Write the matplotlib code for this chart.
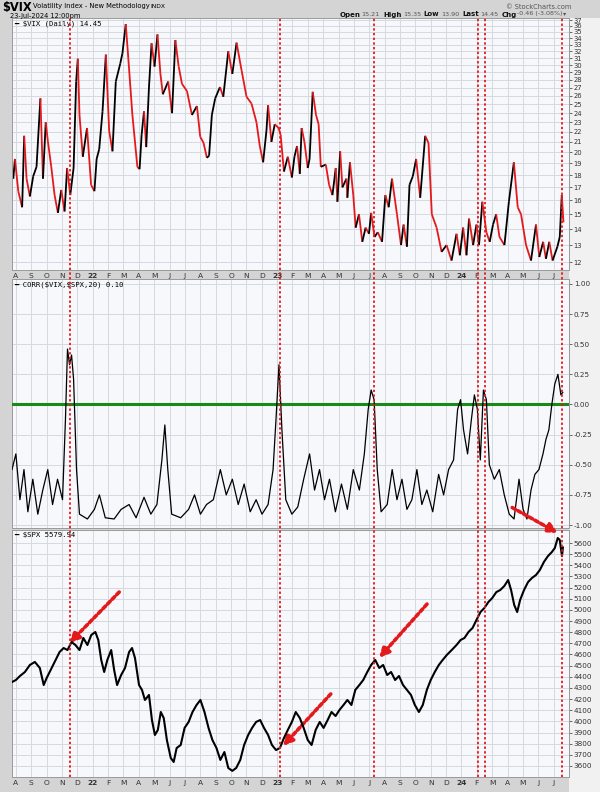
import numpy as np
import matplotlib.pyplot as plt
from matplotlib.collections import LineCollection
from matplotlib.patches import ConnectionPatch, Rectangle
from matplotlib.lines import Line2D
from matplotlib.ticker import FixedLocator, NullLocator, FuncFormatter
import matplotlib.transforms as mtransforms

# time axis in decimal years
vix_t = [2021.560, 2021.569, 2021.578, 2021.596, 2021.617, 2021.628, 2021.641, 2021.659, 2021.677,
         2021.695, 2021.716, 2021.730, 2021.745, 2021.757, 2021.775, 2021.793, 2021.811, 2021.829,
         2021.847, 2021.861, 2021.878, 2021.896, 2021.910, 2021.919, 2021.928, 2021.946, 2021.969,
         2021.991, 2022.009, 2022.021, 2022.035, 2022.053, 2022.071, 2022.089, 2022.107, 2022.125,
         2022.149, 2022.161, 2022.179, 2022.193, 2022.215, 2022.242, 2022.254, 2022.265, 2022.278,
         2022.290, 2022.305, 2022.319, 2022.335, 2022.351, 2022.367, 2022.380, 2022.409, 2022.430,
         2022.448, 2022.466, 2022.484, 2022.511, 2022.538, 2022.565, 2022.583, 2022.601, 2022.619,
         2022.631, 2022.646, 2022.664, 2022.690, 2022.708, 2022.735, 2022.757, 2022.780, 2022.807,
         2022.834, 2022.861, 2022.888, 2022.906, 2022.924, 2022.942, 2022.951, 2022.969, 2022.987,
         2023.008, 2023.019, 2023.037, 2023.058, 2023.080, 2023.094, 2023.108, 2023.123, 2023.133,
         2023.148, 2023.166, 2023.176, 2023.193, 2023.211, 2023.225, 2023.237, 2023.264, 2023.282,
         2023.300, 2023.318, 2023.327, 2023.342, 2023.354, 2023.376, 2023.381, 2023.395, 2023.413,
         2023.426, 2023.444, 2023.462, 2023.480, 2023.498, 2023.510, 2023.528, 2023.546, 2023.569,
         2023.587, 2023.605, 2023.623, 2023.650, 2023.672, 2023.686, 2023.704, 2023.718, 2023.736,
         2023.754, 2023.776, 2023.803, 2023.821, 2023.839, 2023.865, 2023.892, 2023.919, 2023.946,
         2023.973, 2023.991, 2024.009, 2024.027, 2024.041, 2024.063, 2024.081, 2024.095, 2024.113,
         2024.135, 2024.153, 2024.171, 2024.188, 2024.206, 2024.233, 2024.257, 2024.284, 2024.305,
         2024.323, 2024.350, 2024.377, 2024.404, 2024.422, 2024.443, 2024.458, 2024.476, 2024.494,
         2024.520, 2024.533, 2024.544, 2024.553]
vix = [19.2, 17.7, 19.4, 16.7, 15.5, 21.6, 17.7, 16.3, 17.9,
       18.7, 25.7, 17.7, 23.0, 21.0, 18.7, 16.4, 15.1, 16.8,
       15.2, 18.6, 16.4, 18.6, 27.8, 30.9, 23.8, 19.6, 22.4,
       17.2, 16.7, 19.4, 20.3, 24.2, 31.5, 22.1, 20.1, 27.8,
       30.2, 31.7, 36.3, 30.9, 23.8, 18.7, 18.5, 21.7, 24.2,
       20.5, 27.1, 33.2, 29.8, 34.6, 28.8, 26.2, 27.8, 24.0,
       33.7, 29.8, 27.5, 26.6, 23.8, 24.8, 21.5, 20.9, 19.5,
       19.7, 23.8, 25.7, 27.1, 25.9, 32.0, 28.8, 33.3, 29.3,
       25.9, 25.1, 23.0, 20.6, 19.1, 22.1, 24.9, 21.0, 22.8,
       22.4, 21.7, 18.3, 19.6, 17.8, 19.6, 20.6, 18.1, 22.4,
       21.0, 18.6, 19.4, 26.5, 23.8, 22.8, 18.7, 18.9, 17.2,
       16.4, 18.6, 15.9, 20.1, 17.0, 17.7, 16.2, 19.1, 16.4,
       14.1, 15.0, 13.2, 14.1, 13.7, 15.1, 13.5, 13.8, 13.2,
       16.4, 15.5, 17.7, 15.0, 13.0, 14.3, 12.9, 17.2, 17.9,
       19.4, 16.2, 21.6, 20.9, 15.0, 14.1, 12.6, 13.0, 12.1,
       13.7, 12.4, 14.1, 12.4, 14.7, 13.0, 14.3, 13.0, 15.9,
       13.8, 13.2, 14.3, 15.0, 13.5, 13.0, 15.9, 19.1, 15.5,
       15.0, 13.0, 12.1, 14.3, 12.3, 13.2, 12.2, 13.2, 12.1,
       12.9, 13.5, 16.4, 14.45]

corr_t = [2021.562, 2021.583, 2021.605, 2021.627, 2021.648, 2021.675, 2021.702, 2021.729, 2021.756,
          2021.782, 2021.809, 2021.836, 2021.852, 2021.863, 2021.874, 2021.885, 2021.896, 2021.912,
          2021.928, 2021.971, 2022.009, 2022.036, 2022.068, 2022.116, 2022.154, 2022.197, 2022.235,
          2022.278, 2022.315, 2022.348, 2022.375, 2022.391, 2022.407, 2022.428, 2022.477, 2022.520,
          2022.552, 2022.584, 2022.617, 2022.654, 2022.692, 2022.724, 2022.757, 2022.789, 2022.821,
          2022.854, 2022.886, 2022.918, 2022.951, 2022.978, 2022.994, 2023.010, 2023.026, 2023.047,
          2023.080, 2023.112, 2023.144, 2023.176, 2023.203, 2023.230, 2023.257, 2023.284, 2023.316,
          2023.349, 2023.381, 2023.413, 2023.446, 2023.473, 2023.494, 2023.510, 2023.526, 2023.543,
          2023.564, 2023.597, 2023.624, 2023.650, 2023.677, 2023.704, 2023.731, 2023.758, 2023.785,
          2023.812, 2023.844, 2023.876, 2023.903, 2023.930, 2023.957, 2023.979, 2023.995, 2024.011,
          2024.033, 2024.054, 2024.070, 2024.086, 2024.102, 2024.119, 2024.135, 2024.151, 2024.178,
          2024.205, 2024.232, 2024.259, 2024.285, 2024.312, 2024.334, 2024.355, 2024.377, 2024.398,
          2024.420, 2024.442, 2024.458, 2024.474, 2024.490, 2024.506, 2024.523, 2024.539, 2024.549]
corr = [-0.54, -0.41, -0.79, -0.54, -0.89, -0.62, -0.91, -0.71, -0.54,
        -0.83, -0.62, -0.79, -0.12, 0.46, 0.33, 0.41, 0.21, -0.54,
        -0.91, -0.95, -0.87, -0.75, -0.94, -0.95, -0.87, -0.83, -0.94,
        -0.77, -0.91, -0.83, -0.46, -0.17, -0.54, -0.91, -0.94, -0.87,
        -0.75, -0.91, -0.83, -0.79, -0.54, -0.75, -0.62, -0.83, -0.66,
        -0.89, -0.79, -0.91, -0.83, -0.54, -0.12, 0.33, -0.21, -0.79,
        -0.91, -0.85, -0.62, -0.41, -0.71, -0.54, -0.79, -0.62, -0.89,
        -0.66, -0.87, -0.54, -0.71, -0.41, -0.04, 0.12, 0.04, -0.54,
        -0.89, -0.83, -0.54, -0.79, -0.62, -0.87, -0.79, -0.54, -0.83,
        -0.71, -0.89, -0.58, -0.75, -0.54, -0.46, -0.04, 0.04, -0.21,
        -0.41, -0.12, 0.08, -0.04, -0.46, 0.12, 0.04, -0.50, -0.62,
        -0.54, -0.75, -0.91, -0.95, -0.62, -0.87, -0.95, -0.71, -0.58,
        -0.54, -0.41, -0.29, -0.21, 0.00, 0.17, 0.25, 0.08, 0.10]

spx_t = [2021.562, 2021.583, 2021.605, 2021.632, 2021.659, 2021.686, 2021.713, 2021.734, 2021.750,
         2021.777, 2021.799, 2021.820, 2021.842, 2021.863, 2021.885, 2021.906, 2021.928, 2021.949,
         2021.971, 2021.992, 2022.014, 2022.030, 2022.046, 2022.062, 2022.079, 2022.100, 2022.116,
         2022.132, 2022.154, 2022.175, 2022.197, 2022.213, 2022.229, 2022.251, 2022.267, 2022.283,
         2022.305, 2022.321, 2022.337, 2022.353, 2022.369, 2022.385, 2022.402, 2022.423, 2022.439,
         2022.455, 2022.477, 2022.498, 2022.520, 2022.541, 2022.563, 2022.584, 2022.606, 2022.628,
         2022.649, 2022.671, 2022.692, 2022.714, 2022.735, 2022.757, 2022.778, 2022.800, 2022.821,
         2022.843, 2022.864, 2022.886, 2022.908, 2022.929, 2022.951, 2022.972, 2022.994, 2023.015,
         2023.037, 2023.058, 2023.080, 2023.101, 2023.123, 2023.144, 2023.166, 2023.187, 2023.209,
         2023.231, 2023.252, 2023.274, 2023.295, 2023.317, 2023.338, 2023.360, 2023.381, 2023.403,
         2023.424, 2023.446, 2023.467, 2023.489, 2023.510, 2023.532, 2023.554, 2023.575, 2023.597,
         2023.618, 2023.640, 2023.661, 2023.683, 2023.704, 2023.726, 2023.747, 2023.769, 2023.790,
         2023.812, 2023.833, 2023.855, 2023.877, 2023.898, 2023.920, 2023.947, 2023.973, 2023.995,
         2024.016, 2024.038, 2024.060, 2024.081, 2024.103, 2024.124, 2024.146, 2024.167, 2024.189,
         2024.210, 2024.232, 2024.253, 2024.269, 2024.286, 2024.302, 2024.318, 2024.339, 2024.361,
         2024.382, 2024.404, 2024.425, 2024.447, 2024.469, 2024.490, 2024.506, 2024.522, 2024.533,
         2024.545, 2024.550]
spx = [4353, 4371, 4407, 4443, 4506, 4533, 4479, 4326, 4389,
       4479, 4551, 4622, 4658, 4640, 4712, 4685, 4640, 4748,
       4685, 4775, 4802, 4730, 4551, 4443, 4551, 4640, 4461,
       4326, 4416, 4479, 4622, 4658, 4569, 4326, 4282, 4192,
       4237, 4012, 3878, 3923, 4084, 4030, 3833, 3672, 3636,
       3761, 3788, 3941, 3995, 4084, 4147, 4192, 4084, 3941,
       3833, 3761, 3654, 3725, 3582, 3556, 3582, 3654, 3788,
       3878, 3941, 3995, 4012, 3941, 3878, 3788, 3743, 3761,
       3851, 3923, 3995, 4084, 4030, 3941, 3833, 3788, 3923,
       3995, 3941, 4012, 4084, 4048, 4102, 4147, 4192, 4147,
       4282, 4326, 4371, 4443, 4506, 4551, 4479, 4506, 4416,
       4443, 4371, 4407, 4326, 4282, 4237, 4147, 4084, 4147,
       4282, 4371, 4443, 4506, 4551, 4595, 4640, 4685, 4730,
       4748, 4802, 4838, 4909, 4981, 5017, 5071, 5107, 5160,
       5178, 5214, 5268, 5178, 5044, 4981, 5089, 5178, 5250,
       5286, 5313, 5358, 5430, 5483, 5519, 5555, 5645, 5627,
       5483, 5560]

signal_dates = [2021.878, 2023.014, 2023.525, 2024.087, 2024.130, 2024.544]
month_letters = ['J', 'F', 'M', 'A', 'M', 'J', 'J', 'A', 'S', 'O', 'N', 'D']

RED = '#e3191c'
GRID = '#d6d9e0'
BG = '#f7f8fb'

fig = plt.figure(figsize=(6, 7.92), dpi=100, facecolor='#d4d4d4')
# light strip behind the right-hand tick labels
fig.add_artist(Rectangle((0.948, 0.0), 0.052, 0.977, transform=fig.transFigure,
                         facecolor='#f1f1f1', edgecolor='none', zorder=-1))

ax1 = fig.add_axes([0.02, 0.6591, 0.928, 0.3182])
ax2 = fig.add_axes([0.02, 0.3333, 0.928, 0.3144], sharex=ax1)
ax3 = fig.add_axes([0.02, 0.01894, 0.928, 0.3119], sharex=ax1)

# month ticks
months = []
labels = []
for y in (2021, 2022, 2023, 2024):
    for m in range(1, 13):
        if (y, m) < (2021, 8) or (y, m) > (2024, 7):
            continue
        months.append(y + (m - 1) / 12)
        labels.append(str(y)[2:] if m == 1 else month_letters[m - 1])

for ax in (ax1, ax2, ax3):
    ax.set_facecolor(BG)
    ax.set_xlim(2021.562, 2024.582)
    ax.xaxis.set_major_locator(FixedLocator(months))
    ax.yaxis.tick_right()
    ax.grid(True, color=GRID, lw=0.7)
    ax.set_axisbelow(True)
    ax.tick_params(axis='y', labelsize=5.2, colors='#333333', length=2, width=0.5, pad=1.5)
    ax.tick_params(axis='x', labelsize=5.4, colors='#333333', length=0, pad=2)
    for s in ax.spines.values():
        s.set_color('#9a9a9a')
        s.set_linewidth(0.7)

ax1.set_xticks(months)
ax1.set_xticklabels(labels)
for lab in ax1.get_xticklabels():
    if lab.get_text().isdigit():
        lab.set_fontweight('bold')
ax2.tick_params(axis='x', labelbottom=False)
ax3.tick_params(axis='x', labelbottom=True)
for lab in ax3.get_xticklabels():
    if lab.get_text().isdigit():
        lab.set_fontweight('bold')

# top: VIX, red on falling days, black on rising days
ax1.set_yscale('log')
ax1.set_ylim(11.58, 37.35)
ax1.yaxis.set_major_locator(FixedLocator(list(range(12, 38))))
ax1.yaxis.set_minor_locator(NullLocator())
ax1.yaxis.set_major_formatter(FuncFormatter(lambda v, p: f'{v:.0f}'))
ax1.tick_params(axis='y', labelsize=4.9)
pts = np.column_stack([vix_t, vix])
segs = np.stack([pts[:-1], pts[1:]], axis=1)
cols = [RED if vix[i + 1] < vix[i] else 'black' for i in range(len(vix) - 1)]
ax1.add_collection(LineCollection(segs, colors=cols, linewidths=1.3))
ax1.text(0.004, 0.99, '━ \\$VIX (Daily) 14.45', transform=ax1.transAxes, va='top', ha='left',
         family='DejaVu Sans Mono', fontsize=5.2)

# middle: correlation
ax2.set_ylim(-1.025, 1.041)
ax2.yaxis.set_major_locator(FixedLocator([-1, -0.75, -0.5, -0.25, 0, 0.25, 0.5, 0.75, 1]))
ax2.yaxis.set_major_formatter(FuncFormatter(lambda v, p: f'{v:.2f}'))
ax2.axhline(0, color='#188a18', lw=2.2, zorder=3)
ax2.plot(corr_t, corr, color='black', lw=0.9, zorder=4)
ax2.text(0.004, 0.99, '━ CORR(\\$VIX,\\$SPX,20) 0.10', transform=ax2.transAxes, va='top', ha='left',
         family='DejaVu Sans Mono', fontsize=5.2)

# bottom: S&P 500
ax3.set_ylim(3501, 5717)
ax3.yaxis.set_major_locator(FixedLocator(list(range(3600, 5700, 100))))
ax3.yaxis.set_major_formatter(FuncFormatter(lambda v, p: f'{v:.0f}'))
ax3.plot(spx_t, spx, color='black', lw=1.5, zorder=4)
ax3.text(0.004, 0.992, '━ \\$SPX 5579.94', transform=ax3.transAxes, va='top', ha='left',
         family='DejaVu Sans Mono', fontsize=5.2)

# red dotted signal lines through all panels
blend = mtransforms.blended_transform_factory(ax1.transData, fig.transFigure)
for d in signal_dates:
    fig.add_artist(Line2D([d, d], [0.019, 0.977], transform=blend, color=RED,
                          lw=1.3, ls=(0, (1.3, 1.3)), zorder=5))

# dotted arrows
arrow_kw = dict(arrowstyle='-|>', color=RED, lw=2.6, ls=(0, (1, 0.8)), mutation_scale=14)
ax3.annotate('', xy=(2021.863, 4685), xytext=(2022.154, 5178), arrowprops=arrow_kw)
ax3.annotate('', xy=(2023.021, 3761), xytext=(2023.301, 4264), arrowprops=arrow_kw)
ax3.annotate('', xy=(2023.543, 4551), xytext=(2023.823, 5071), arrowprops=arrow_kw)
fig.add_artist(ConnectionPatch(xyA=(2024.275, -0.855), coordsA=ax2.transData,
                               xyB=(2024.522, 5690), coordsB=ax3.transData, zorder=6, **arrow_kw))

# header
fig.text(0.004, 0.9985, '\\$VIX', fontsize=8.3, fontweight='bold', va='top')
fig.text(0.055, 0.9965, 'Volatility Index - New Methodology', fontsize=4.9, va='top')
fig.text(0.251, 0.9955, 'INDX', fontsize=4.3, va='top')
fig.text(0.017, 0.9835, '23-Jul-2024 12:00pm', fontsize=4.8, va='top')
fig.text(0.952, 0.9955, '© StockCharts.com', fontsize=4.8, va='top', ha='right', color='#555555')
hdr = [(340, 'Open', True), (361, '15.21', False), (383, 'High', True), (403, '15.35', False),
       (423, 'Low', True), (441, '13.90', False), (462, 'Last', True), (480, '14.45', False),
       (502, 'Chg', True), (517, '-0.46 (-3.08%)', False), (563, '▾', False)]
for px, txt, bold in hdr:
    fig.text(px / 600, 1 - 11.5 / 792, txt, fontsize=5.0 if bold else 4.6,
             fontweight='bold' if bold else 'normal', va='top', color='#111111' if bold else '#555555')

fig.savefig('out.png', dpi=100, facecolor=fig.get_facecolor())
